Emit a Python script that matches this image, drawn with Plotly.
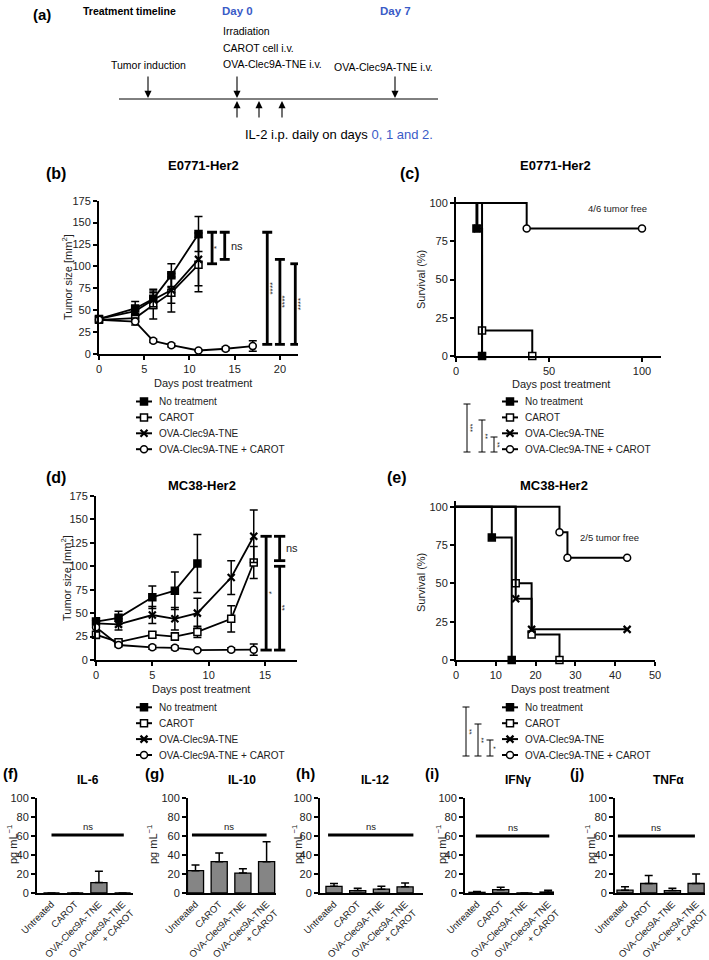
import plotly.graph_objects as go

W, H = 709, 960
FONT = "Liberation Sans, Arial, Helvetica, sans-serif"
BLUE = "#3a5bc7"

# ------------------------------------------------------------------ data
groups = ["No treatment", "CAROT", "OVA-Clec9A-TNE", "OVA-Clec9A-TNE + CAROT"]

# (b) E0771-Her2 tumour growth
b_days = [[0, 4, 6, 8, 11], [0, 4, 6, 8, 11], [0, 4, 6, 8, 11], [0, 4, 6, 8, 11, 14, 17]]
b_nt = [40, 52, 63, 90, 137]
b_nt_err = [3, 8, 11, 13, 20]
b_carot = [39, 41, 56, 70, 102]
b_carot_err = [3, 5, 16, 22, 31]
b_ova = [40, 49, 62, 73, 108]
b_ova_err = [3, 5, 8, 15, 30]
b_combo = [39, 37, 15, 10, 4, 6, 9]
b_combo_err = [3, 4, 2, 2, 1, 2, 6]
b_sig_x = [12.5, 13.9, 18.6, 20.0, 21.7]
b_sig_lo = [103, 108, 11, 11, 11]
b_sig_hi = [139, 139, 139, 108, 103]
b_sig_lab = ["*", "ns", "****", "****", "****"]

# (c) E0771-Her2 survival
c_times = [[0, 11, 14], [0, 14, 41], [0, 11.5, 14], [0, 38, 100]]
c_surv = [[100, 83.3, 0], [100, 16.7, 0], [100, 83.3, 0], [100, 83.3, 83.3]]
c_sig_lab = ["***", "**", "**"]

# (d) MC38-Her2 tumour growth
d_days = [[0, 2, 5, 7, 9], [0, 2, 5, 7, 9, 12, 14], [0, 2, 5, 7, 9, 12, 14], [0, 2, 5, 7, 9, 12, 14]]
d_nt = [41, 45, 67, 74, 103]
d_nt_err = [4, 7, 12, 20, 31]
d_carot = [27, 19, 27, 25, 30, 44, 104]
d_carot_err = [4, 2, 3, 4, 6, 14, 17]
d_ova = [39, 38, 48, 44, 50, 88, 132]
d_ova_err = [5, 6, 9, 12, 16, 18, 28]
d_combo = [35, 16, 13.5, 13, 10.5, 11, 11]
d_combo_err = [5, 2, 2, 2, 1, 2, 6]
d_sig_x = [15.1, 16.3, 16.3]
d_sig_lo = [10.6, 106, 10.6]
d_sig_hi = [132, 132, 100]
d_sig_lab = ["*", "ns", "**"]

# (e) MC38-Her2 survival
e_times = [[0, 9, 14], [0, 15, 19, 26], [0, 15, 19, 43], [0, 26, 28, 43]]
e_surv = [[100, 80, 0], [100, 50, 16.7, 0], [100, 40, 20, 20], [100, 83.3, 66.7, 66.7]]
e_sig_lab = ["**", "**", "*"]

# (f)-(j) cytokines
cyto_cats = ["Untreated", "CAROT", "OVA-Clec9A-TNE", "OVA-Clec9A-TNE<br>+ CAROT"]
cyto_titles = ["IL-6", "IL-10", "IL-12", "IFNγ", "TNFα"]
cyto_letters = ["(f)", "(g)", "(h)", "(i)", "(j)"]
il6 = [0, 0, 11, 0]
il6_err = [None, None, 12, None]
il10 = [23.5, 33, 21, 33]
il10_err = [6, 9, 4.5, 21]
il12 = [7, 2.5, 4, 6.5]
il12_err = [3, 2.5, 3, 4]
ifng = [0.7, 3.5, 0, 1]
ifng_err = [1, 2.5, None, 2]
tnfa = [3, 10, 2.5, 10]
tnfa_err = [3.5, 8.5, 2.5, 10]
cyto_vals = [il6, il10, il12, ifng, tnfa]
cyto_errs = [il6_err, il10_err, il12_err, ifng_err, tnfa_err]
cyto_ns_y = [61, 61, 61, 60, 60]
cyto_ns_span = [[0, 3.05], [-0.15, 3.0], [-0.25, 3.35], [-0.05, 3.05], [-0.3, 2.95]]

# ------------------------------------------------------------------ styling helpers
SYM = ["square", "square", "x-thin", "circle"]
FILL = ["black", "white", "black", "white"]
MLW = [1.5, 1.5, 2.2, 1.5]


def dx(a, b):
    return [a / W, b / W]


def dy(bottom, top):
    return [1 - bottom / H, 1 - top / H]


fig = go.Figure()
ann = []
shapes = []

axis_common = dict(showline=True, linewidth=2, linecolor="black", ticks="outside", ticklen=4,
                   tickwidth=2, tickcolor="black", showgrid=False, zeroline=False, automargin=False,
                   tickfont=dict(size=11, color="#222", family=FONT), fixedrange=True)
lay = {}
# (b)
lay["xaxis"] = dict(axis_common, domain=dx(99, 298), range=[0, 22], tickvals=[0, 5, 10, 15, 20], anchor="y")
lay["yaxis"] = dict(axis_common, domain=dy(354, 200.7), range=[0, 175], tickvals=list(range(0, 176, 25)), anchor="x")
# (c)
lay["xaxis2"] = dict(axis_common, domain=dx(456, 660.6), range=[0, 110], tickvals=[0, 50, 100], anchor="y2")
lay["yaxis2"] = dict(axis_common, domain=dy(356, 196.9), range=[0, 104], tickvals=[0, 25, 50, 75, 100], anchor="x2")
# (d)
lay["xaxis3"] = dict(axis_common, domain=dx(96, 297), range=[0, 17.84], tickvals=[0, 5, 10, 15], anchor="y3")
lay["yaxis3"] = dict(axis_common, domain=dy(660, 496), range=[0, 175], tickvals=list(range(0, 176, 25)), anchor="x3")
# (e)
lay["xaxis4"] = dict(axis_common, domain=dx(456, 655), range=[0, 50], tickvals=[0, 10, 20, 30, 40, 50], anchor="y4")
lay["yaxis4"] = dict(axis_common, domain=dy(660, 500.6), range=[0, 104], tickvals=[0, 25, 50, 75, 100], anchor="x4")

# cytokine axes
bar_left = [37, 188, 320, 465, 615]
bar_cat0 = [51.5, 195.5, 334, 477, 625]
bar_right = [133, 276, 423, 554, 705]
SP = 23.7
for k in range(5):
    n = k + 5
    r0 = (bar_left[k] - bar_cat0[k]) / SP
    r1 = (bar_right[k] - bar_cat0[k]) / SP
    lay[f"xaxis{n}"] = dict(axis_common, domain=dx(bar_left[k], bar_right[k]), range=[r0, r1],
                            tickvals=[0, 1, 2, 3], ticktext=cyto_cats, tickangle=-45, ticks="",
                            ticklabeloverflow="allow",
                            tickfont=dict(size=9.5, color="#222", family=FONT), anchor=f"y{n}")
    lay[f"yaxis{n}"] = dict(axis_common, domain=dy(893, 798), range=[0, 100], tickvals=[0, 20, 40, 60, 80, 100],
                            ticklen=4, anchor=f"x{n}")

# canvas axis in pixel coordinates
lay["xaxis10"] = dict(domain=[0, 1], range=[0, W], visible=False, fixedrange=True, automargin=False, anchor="y10")
lay["yaxis10"] = dict(domain=[0, 1], range=[H, 0], visible=False, fixedrange=True, automargin=False, anchor="x10")


def txt(x, y, s, size=11, bold=False, color="black", xanchor="center", yanchor="middle", angle=0, family=FONT):
    if bold:
        s = f"<b>{s}</b>"
    ann.append(dict(x=x, y=y, xref="x10", yref="y10", text=s, showarrow=False,
                    font=dict(size=size, color=color, family=family), xanchor=xanchor, yanchor=yanchor,
                    textangle=angle))


def line(x0, y0, x1, y1, xref="x10", yref="y10", width=1, color="black"):
    shapes.append(dict(type="line", x0=x0, y0=y0, x1=x1, y1=y1, xref=xref, yref=yref,
                       line=dict(color=color, width=width)))


def arrow(x, y_head, y_tail):
    ann.append(dict(x=x, y=y_head, xref="x10", yref="y10", ax=x, ay=y_tail, axref="x10", ayref="y10",
                    showarrow=True, arrowhead=2, arrowsize=1.3, arrowwidth=1.1, arrowcolor="black", text=""))


# ------------------------------------------------------------------ (a) timeline
txt(42, 14, "(a)", size=15, bold=True)
txt(129, 11, "Treatment timeline", size=10.5, bold=True)
txt(237, 11, "Day 0", size=11.5, bold=True, color=BLUE)
txt(395, 11, "Day 7", size=11.5, bold=True, color=BLUE)
txt(221, 31, "Irradiation", size=10.5, xanchor="left")
txt(221, 48, "CAROT cell i.v.", size=10.5, xanchor="left")
txt(221, 64, "OVA-Clec9A-TNE i.v.", size=10.5, xanchor="left")
txt(148, 65, "Tumor induction", size=10.5)
txt(383, 67, "OVA-Clec9A-TNE i.v.", size=10.5)
line(119, 99, 438, 99, width=1)
arrow(148, 98, 75)
arrow(237, 98, 75)
arrow(395, 98, 75)
for xx in (237, 259, 282):
    arrow(xx, 101, 119)
txt(243, 134, f"IL-2 i.p. daily on days <span style='color:{BLUE}'>0, 1 and 2.</span>", size=13, xanchor="left")


# ------------------------------------------------------------------ growth curves
def add_growth(xa, ya, days, vals, errs):
    for g in range(4):
        fig.add_trace(go.Scatter(
            x=days[g], y=vals[g], mode="lines+markers", xaxis=xa, yaxis=ya,
            line=dict(color="black", width=1.8),
            marker=dict(symbol=SYM[g], size=7, color=FILL[g], line=dict(color="black", width=MLW[g])),
            error_y=dict(type="data", array=errs[g], color="black", thickness=1.5, width=4),
            cliponaxis=False, showlegend=False, hoverinfo="skip"))


add_growth("x", "y", b_days, [b_nt, b_carot, b_ova, b_combo], [b_nt_err, b_carot_err, b_ova_err, b_combo_err])
add_growth("x3", "y3", d_days, [d_nt, d_carot, d_ova, d_combo], [d_nt_err, d_carot_err, d_ova_err, d_combo_err])


def add_sig(xref, yref, xs, los, his, labs, cap):
    for x, lo, hi, lab in zip(xs, los, his, labs):
        line(x, lo, x, hi, xref=xref, yref=yref, width=2.8)
        line(x - cap, lo, x + cap, lo, xref=xref, yref=yref, width=2.8)
        line(x - cap, hi, x + cap, hi, xref=xref, yref=yref, width=2.8)
        if lab == "ns":
            ann.append(dict(x=x, y=(lo + hi) / 2, xref=xref, yref=yref, text="ns", showarrow=False,
                            xanchor="left", xshift=4, font=dict(size=11, color="#222", family=FONT)))
        else:
            ann.append(dict(x=x, y=(lo + hi) / 2, xref=xref, yref=yref, text=lab, showarrow=False,
                            textangle=-90, xshift=5, font=dict(size=8, color="#222", family=FONT)))


add_sig("x", "y", b_sig_x, b_sig_lo, b_sig_hi, b_sig_lab, 0.55)
add_sig("x3", "y3", d_sig_x, d_sig_lo, d_sig_hi, d_sig_lab, 0.5)


# ------------------------------------------------------------------ survival curves
def add_surv(xa, ya, times, surv):
    for g in range(4):
        n = len(times[g])
        fig.add_trace(go.Scatter(
            x=times[g], y=surv[g], mode="lines+markers", line_shape="hv", xaxis=xa, yaxis=ya,
            line=dict(color="black", width=2),
            marker=dict(symbol=SYM[g], size=7, color=FILL[g], opacity=[0] + [1] * (n - 1),
                        line=dict(color="black", width=MLW[g])),
            cliponaxis=False, showlegend=False, hoverinfo="skip"))


add_surv("x2", "y2", c_times, c_surv)
add_surv("x4", "y4", e_times, e_surv)
txt(617, 208, "4/6 tumor free", size=9.5, color="#222")
txt(609, 537, "2/5 tumor free", size=9.5, color="#222")


# ------------------------------------------------------------------ legends (drawn on canvas)
def legend_block(xs, xt, y0, step=15.9):
    for g in range(4):
        yy = y0 + step * g
        fig.add_trace(go.Scatter(
            x=[xs - 8, xs, xs + 8], y=[yy] * 3, mode="lines+markers", xaxis="x10", yaxis="y10",
            line=dict(color="black", width=2),
            marker=dict(symbol=SYM[g], size=7, color=FILL[g], opacity=[0, 1, 0],
                        line=dict(color="black", width=MLW[g])),
            cliponaxis=False, showlegend=False, hoverinfo="skip"))
        txt(xt, yy, groups[g], size=10, xanchor="left", color="#222")


legend_block(144, 157, 401.5)
legend_block(510, 523, 401.5)
legend_block(144, 157, 707.3)
legend_block(510, 523, 707.3)


def surv_brackets(xs, tops, bottom, labs):
    for x, t, lab in zip(xs, tops, labs):
        line(x, t, x, bottom, width=1)
        line(x - 3.5, t, x + 3.5, t, width=1)
        line(x - 3.5, bottom, x + 3.5, bottom, width=1)
        txt(x + 5, (t + bottom) / 2, lab, size=7, angle=-90, color="#222")


surv_brackets([467, 482, 494], [404, 420, 437], 452, c_sig_lab)
surv_brackets([466, 478, 490], [707, 724, 740], 756, e_sig_lab)

# ------------------------------------------------------------------ panel labels / titles / axis titles
txt(56, 173, "(b)", size=16, bold=True)
txt(203, 165, "E0771-Her2", size=13, bold=True)
txt(410, 173, "(c)", size=16, bold=True)
txt(555, 165, "E0771-Her2", size=13, bold=True)
txt(56, 477, "(d)", size=16, bold=True)
txt(202, 485, "MC38-Her2", size=13, bold=True)
txt(397, 477, "(e)", size=16, bold=True)
txt(554, 485, "MC38-Her2", size=13, bold=True)

txt(67, 277, "Tumor size [mm<sup>2</sup>]", size=11, angle=-90, color="#222")
txt(203, 383, "Days post treatment", size=11, color="#222")
txt(421, 280, "Survival (%)", size=11, angle=-90, color="#222")
txt(561, 384, "Days post treatment", size=11, color="#222")
txt(66, 578, "Tumor size [mm<sup>2</sup>]", size=11, angle=-90, color="#222")
txt(201, 689, "Days post treatment", size=11, color="#222")
txt(421, 583, "Survival (%)", size=11, angle=-90, color="#222")
txt(560, 689, "Days post treatment", size=11, color="#222")

# ------------------------------------------------------------------ cytokine bars
letter_x = [10, 154, 305, 432, 577]
title_x = [88, 242, 375, 518, 668]
ytitle_x = [12, 152, 297, 441, 590]
for k in range(5):
    n = k + 5
    fig.add_trace(go.Bar(
        x=[0, 1, 2, 3], y=cyto_vals[k], width=0.68, xaxis=f"x{n}", yaxis=f"y{n}",
        marker=dict(color="#858585", line=dict(color="black", width=1.3)),
        error_y=dict(type="data", array=cyto_errs[k], arrayminus=[0, 0, 0, 0], symmetric=False,
                     color="black", thickness=1.5, width=4),
        cliponaxis=False, showlegend=False, hoverinfo="skip"))
    s0, s1 = cyto_ns_span[k]
    line(s0, cyto_ns_y[k], s1, cyto_ns_y[k], xref=f"x{n}", yref=f"y{n}", width=3)
    ann.append(dict(x=(s0 + s1) / 2, y=cyto_ns_y[k], xref=f"x{n}", yref=f"y{n}", text="ns", showarrow=False,
                    yanchor="bottom", yshift=1, font=dict(size=9.5, color="#222", family=FONT)))
    txt(letter_x[k], 773, cyto_letters[k], size=15, bold=True)
    txt(title_x[k], 780, cyto_titles[k], size=12, bold=True)
    txt(ytitle_x[k], 845, "pg mL<sup>−1</sup>", size=11, angle=-90, color="#222")

fig.update_layout(
    template="none",
    width=W, height=H, margin=dict(l=0, r=0, t=0, b=0, pad=0, autoexpand=False),
    paper_bgcolor="white", plot_bgcolor="rgba(0,0,0,0)",
    font=dict(family=FONT, color="black"),
    annotations=ann, shapes=shapes, showlegend=False, bargap=0.3,
    **lay)

# the page's default 8px body margin would shift the whole figure; remove it
fig.write_html("out.html", config={"displayModeBar": False},
               post_script="document.body.style.margin='0px';")
